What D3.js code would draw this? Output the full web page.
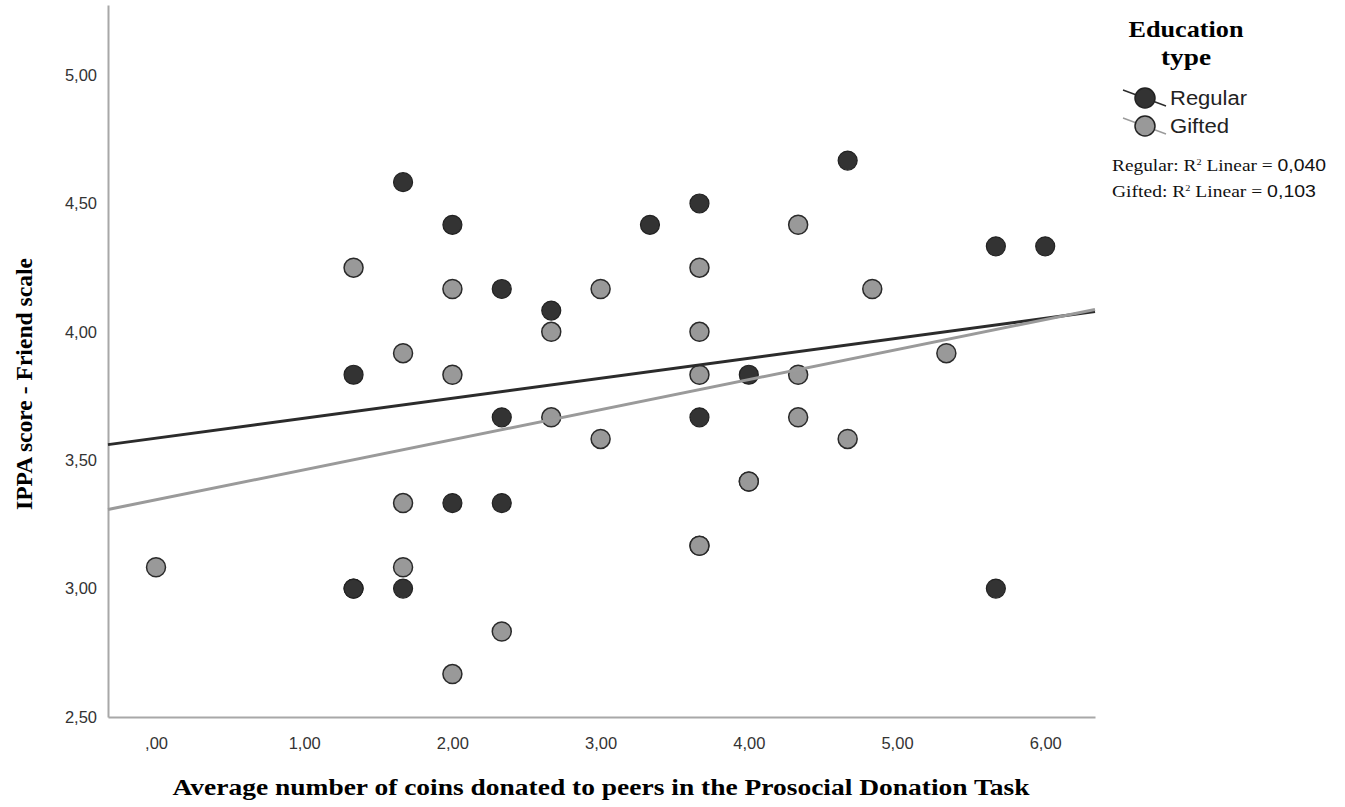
<!DOCTYPE html>
<html>
<head>
<meta charset="utf-8">
<script src="https://cdnjs.cloudflare.com/ajax/libs/d3/7.8.5/d3.min.js"></script>
<style>
  body { margin: 0; background: #fff; }
  svg { display: block; }
</style>
</head>
<body>
<div class="container"></div>
<script>
// data
var regularX = [1.333, 1.667, 2.00, 2.333, 2.667, 1.333, 2.333, 2.00, 2.333, 1.333, 1.667,
                3.333, 3.667, 4.667, 5.667, 6.00, 4.00, 3.667, 5.667, 4.00, 3.667];
var regularY = [3.833, 4.583, 4.417, 4.167, 4.083, 3.00, 3.667, 3.333, 3.333, 3.00, 3.00,
                4.417, 4.50, 4.667, 4.333, 4.333, 3.833, 3.667, 3.00, 3.417, 3.167];
var giftedX = [0.00, 1.333, 1.667, 1.667, 1.667, 2.00, 2.00, 2.00, 2.333, 2.667, 2.667, 3.00,
               3.00, 3.667, 3.667, 3.667, 3.667, 4.00, 4.333, 4.333, 4.333, 4.667, 4.833, 5.333];
var giftedY = [3.083, 4.25, 3.917, 3.333, 3.083, 4.167, 3.833, 2.667, 2.833, 4.00, 3.667, 4.167,
               3.583, 4.25, 4.00, 3.833, 3.167, 3.417, 4.417, 3.833, 3.667, 3.583, 4.167, 3.917];
// fit lines (intercept, slope)
var fitNames = ["Regular", "Gifted"];
var fitIntercept = [3.586, 3.346];
var fitSlope = [0.0778, 0.117];
var fitR2 = ["0,040", "0,103"];
var xTicks = [0, 1, 2, 3, 4, 5, 6];
var yTicks = [2.5, 3.0, 3.5, 4.0, 4.5, 5.0];

(function() {
    var W = 1345, H = 807;
    var plotLeft = 108, plotRight = 1095, plotTop = 5, plotBottom = 717;
    var darkFill = "#333333", greyFill = "#999999";
    var serif = "Liberation Serif, Times New Roman, serif";
    var sans = "Liberation Sans, Arial, sans-serif";

    var svg = d3.select(".container").append("svg")
        .attr("width", W).attr("height", H);

    var x = d3.scaleLinear().domain([-0.324, 6.336]).range([plotLeft, plotRight]);
    var y = d3.scaleLinear().domain([2.5, 5.273]).range([plotBottom, plotTop]);

    function fmt(v) {
        var s = d3.format(".2f")(v).replace(".", ",");
        if (s == "0,00") s = ",00";
        return s;
    }

    // axes
    var xAxis = svg.append("g").attr("transform", "translate(0," + plotBottom + ")")
        .call(d3.axisBottom(x).tickValues(xTicks).tickSize(0).tickPadding(20).tickFormat(fmt));
    var yAxis = svg.append("g").attr("transform", "translate(" + plotLeft + ",0)")
        .call(d3.axisLeft(y).tickValues(yTicks).tickSize(0).tickPadding(11).tickFormat(fmt));
    [xAxis, yAxis].forEach(function(a) {
        a.select(".domain").attr("stroke", "#a8a8a8").attr("stroke-width", 2);
        a.selectAll("text").attr("font-family", sans)
            .attr("font-size", 16.5).attr("fill", "#333");
    });

    // points
    var regular = regularX.map(function(d, i) { return [d, regularY[i]]; });
    var gifted = giftedX.map(function(d, i) { return [d, giftedY[i]]; });

    svg.append("g").selectAll("circle")
        .data(regular).enter().append("circle")
        .attr("cx", (d) => x(d[0])).attr("cy", (d) => y(d[1])).attr("r", 9.5)
        .attr("fill", darkFill).attr("stroke", "#222").attr("stroke-width", 1.2);

    svg.append("g").selectAll("circle")
        .data(gifted).enter().append("circle")
        .attr("cx", (d) => x(d[0])).attr("cy", (d) => y(d[1])).attr("r", 9.5)
        .attr("fill", greyFill).attr("stroke", "#2a2a2a").attr("stroke-width", 1.5);

    // fit lines across whole x range
    var x0 = x.domain()[0], x1 = x.domain()[1];
    var lineColors = ["#2b2b2b", "#9a9a9a"];
    fitNames.forEach(function(n, i) {
        svg.append("line")
            .attr("x1", x(x0)).attr("y1", y(fitIntercept[i] + fitSlope[i] * x0))
            .attr("x2", x(x1)).attr("y2", y(fitIntercept[i] + fitSlope[i] * x1))
            .attr("stroke", lineColors[i]).attr("stroke-width", 3);
    });

    // axis titles
    svg.append("text")
        .attr("x", 601).attr("y", 795)
        .attr("text-anchor", "middle")
        .attr("font-family", serif)
        .attr("font-weight", "bold").attr("font-size", 23)
        .attr("textLength", 857).attr("lengthAdjust", "spacingAndGlyphs")
        .text("Average number of coins donated to peers in the Prosocial Donation Task");

    svg.append("text")
        .attr("transform", "translate(32,384) rotate(-90)")
        .attr("text-anchor", "middle")
        .attr("font-family", serif)
        .attr("font-weight", "bold").attr("font-size", 23)
        .attr("textLength", 252).attr("lengthAdjust", "spacingAndGlyphs")
        .text("IPPA score - Friend scale");

    // legend
    var legend = svg.append("g");
    legend.append("text").attr("x", 1186).attr("y", 37).attr("text-anchor", "middle")
        .attr("font-family", serif)
        .attr("font-weight", "bold").attr("font-size", 23)
        .attr("textLength", 115).attr("lengthAdjust", "spacingAndGlyphs").text("Education");
    legend.append("text").attr("x", 1186).attr("y", 65).attr("text-anchor", "middle")
        .attr("font-family", serif)
        .attr("font-weight", "bold").attr("font-size", 23)
        .attr("textLength", 50).attr("lengthAdjust", "spacingAndGlyphs").text("type");

    var fills = [darkFill, greyFill];
    var nameWidths = [77, 59];
    var r2Widths = [214, 204];
    fitNames.forEach(function(n, i) {
        var cy = 98 + i * 28;
        legend.append("line").attr("x1", 1123).attr("y1", cy - 8).attr("x2", 1166).attr("y2", cy + 8)
            .attr("stroke", lineColors[i]).attr("stroke-width", 1.5);
        legend.append("circle").attr("cx", 1145).attr("cy", cy).attr("r", 10)
            .attr("fill", fills[i]).attr("stroke", "#222").attr("stroke-width", 1.5);
        legend.append("text").attr("x", 1170).attr("y", cy + 7)
            .attr("font-family", sans)
            .attr("font-size", 20).attr("fill", "#222")
            .attr("textLength", nameWidths[i]).attr("lengthAdjust", "spacingAndGlyphs").text(n);

        var t = legend.append("text").attr("x", 1112).attr("y", 171 + i * 26)
            .attr("font-family", serif)
            .attr("font-size", 17).attr("fill", "#111")
            .attr("textLength", r2Widths[i]).attr("lengthAdjust", "spacingAndGlyphs");
        t.append("tspan").text(n + ": R");
        t.append("tspan").attr("font-size", 9).attr("dy", -6).text("2");
        t.append("tspan").attr("dy", 6).text(" Linear = ");
        t.append("tspan").attr("font-family", sans).text(fitR2[i]);
    });
})();
</script>
</body>
</html>
